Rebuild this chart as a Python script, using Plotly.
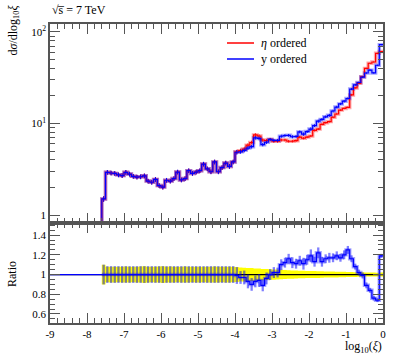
import numpy as np
import plotly.graph_objects as go

# ---------------- data ----------------
# histogram bins of width 0.1 in log10(xi) from -9 to 0; bins below -7.6 are empty
bin_edges = np.round(np.linspace(-9.0, 0.0, 91), 2)
n_empty = 14

# eta-ordered dsigma/dlog10(xi), bins -7.6 ... -0.1
eta_vals = [1.5, 2.93, 2.88, 2.85, 2.75, 2.7, 2.93, 2.8, 2.65, 2.6,
            2.62, 2.68, 2.35, 2.28, 2.45, 2.1, 2.02, 2.4, 2.35, 2.5,
            2.95, 2.42, 2.5, 3.05, 2.85, 2.95, 3.05, 3.6, 3.2, 2.97,
            3.8, 2.97, 3.3, 3.7, 3.4, 3.8, 4.9, 5.05, 5.25, 5.8,
            6.2, 7.5, 7.3, 6.6, 6.5, 6.7, 6.4, 6.4, 6.6, 6.6,
            6.4, 6.4, 6.5, 7.1, 6.9, 7.1, 7.3, 8.4, 8.7, 9.8,
            10.2, 10.5, 11.7, 12.7, 14.0, 14.6, 15.0, 20.5, 24.5, 27.5,
            32.5, 40.0, 45.5, 47.0, 58.5, 61.0]

# ratio y ordered / eta ordered, bins -7.6 ... -0.1
ratio_vals = [1.0] * 36 + [
    0.99, 0.97, 0.97, 0.93, 0.90, 0.93, 0.94, 0.89, 0.96, 1.0,
    1.02, 1.02, 1.10, 1.12, 1.16, 1.12, 1.11, 1.14, 1.11, 1.15,
    1.19, 1.13, 1.22, 1.13, 1.16, 1.17, 1.17, 1.19, 1.17, 1.20,
    1.25, 1.16, 1.08, 1.02, 0.99, 0.89, 0.84, 0.76, 0.74, 1.19]

# relative uncertainty of the eta-ordered reference (yellow band)
band_err = [0.10,
            0.078, 0.08, 0.08, 0.078, 0.08, 0.082, 0.08, 0.078, 0.08, 0.082,
            0.085, 0.08, 0.078, 0.08, 0.082, 0.085, 0.08, 0.082, 0.08, 0.078,
            0.08, 0.082, 0.08, 0.078, 0.08, 0.08, 0.078, 0.08, 0.08, 0.082,
            0.08, 0.078, 0.08, 0.08, 0.078, 0.076,
            0.072, 0.07, 0.067, 0.065, 0.062, 0.06, 0.057, 0.056, 0.053, 0.052,
            0.05, 0.048, 0.046, 0.044, 0.042, 0.04, 0.039, 0.038, 0.036, 0.035,
            0.035, 0.034, 0.033, 0.031, 0.031, 0.03, 0.029, 0.028, 0.027, 0.026,
            0.025, 0.024, 0.023, 0.022, 0.021, 0.02, 0.02, 0.019, 0.02]

# uncertainty of the y-ordered ratio points
ratio_err = [0.10] + [0.085] * 36 + [
    0.065, 0.07, 0.07, 0.065, 0.06, 0.065, 0.06, 0.06, 0.055, 0.055,
    0.05, 0.055, 0.05, 0.05, 0.055, 0.05, 0.05, 0.06, 0.05, 0.065,
    0.05, 0.055, 0.05, 0.045, 0.05, 0.045, 0.045, 0.04, 0.045, 0.04,
    0.035, 0.03, 0.03, 0.03, 0.03, 0.025, 0.025, 0.02, 0.02]

eta = np.array([0.0] * n_empty + eta_vals)
ratio = np.array([1.0] * n_empty + ratio_vals)
yord = eta * ratio
berr = np.array([0.0] * n_empty + band_err)
rerr = np.array([0.0] * n_empty + ratio_err)
centers = (bin_edges[:-1] + bin_edges[1:]) / 2
filled = eta > 0

FLOOR = 1e-3  # display value for empty bins on the log axis


def step_y(v):
    v = np.asarray(v, dtype=float)
    return np.append(v, v[-1])


def logsafe(v):
    return np.where(v > 0, v, FLOOR)


RED = "#ff0000"
BLUE = "#0000ff"
AX = "#555555"
FONT = "Liberation Serif"

fig = go.Figure()

# ---------------- main panel ----------------
for vals, col, halo in [(eta, RED, "rgba(255,0,0,0.35)"),
                        (yord, BLUE, "rgba(0,0,255,0.35)")]:
    fig.add_trace(go.Scatter(x=bin_edges, y=step_y(logsafe(vals)), mode="lines",
                             line=dict(shape="hv", color=halo, width=3.5),
                             xaxis="x", yaxis="y", showlegend=False, hoverinfo="skip"))
for vals, col, rel in [(eta, RED, berr), (yord, BLUE, rerr)]:
    fig.add_trace(go.Scatter(x=centers[filled], y=vals[filled], mode="markers",
                             marker=dict(size=0.1, color=col),
                             error_y=dict(type="data", array=(vals * rel * 0.7)[filled],
                                          color=col, thickness=1, width=0),
                             xaxis="x", yaxis="y", showlegend=False, hoverinfo="skip"))
    fig.add_trace(go.Scatter(x=bin_edges, y=step_y(logsafe(vals)), mode="lines",
                             line=dict(shape="hv", color=col, width=1.2),
                             xaxis="x", yaxis="y", showlegend=False))

# ---------------- ratio panel ----------------
e_f = bin_edges[n_empty:]
fig.add_trace(go.Scatter(x=e_f, y=step_y(1 - berr[n_empty:]), mode="lines",
                         line=dict(shape="hv", width=0, color="#ffff00"),
                         xaxis="x2", yaxis="y2", showlegend=False, hoverinfo="skip"))
fig.add_trace(go.Scatter(x=e_f, y=step_y(1 + berr[n_empty:]), mode="lines",
                         line=dict(shape="hv", width=0, color="#ffff00"),
                         fill="tonexty", fillcolor="#ffff00",
                         xaxis="x2", yaxis="y2", showlegend=False, hoverinfo="skip"))
fig.add_trace(go.Scatter(x=[bin_edges[0], bin_edges[-1]], y=[1, 1], mode="lines",
                         line=dict(color="black", width=1.2),
                         xaxis="x2", yaxis="y2", showlegend=False, hoverinfo="skip"))
fig.add_trace(go.Scatter(x=centers[filled], y=ratio[filled], mode="markers",
                         marker=dict(size=0.1, color=BLUE),
                         error_y=dict(type="data", array=rerr[filled],
                                      color="rgba(0,0,255,0.5)", thickness=2.3, width=0),
                         xaxis="x2", yaxis="y2", showlegend=False, hoverinfo="skip"))
fig.add_trace(go.Scatter(x=bin_edges[n_empty:], y=step_y(ratio[n_empty:]), mode="lines",
                         line=dict(shape="hv", color="rgba(0,0,255,0.35)", width=3.5),
                         xaxis="x2", yaxis="y2", showlegend=False, hoverinfo="skip"))
fig.add_trace(go.Scatter(x=bin_edges, y=step_y(ratio), mode="lines",
                         line=dict(shape="hv", color=BLUE, width=1.2),
                         xaxis="x2", yaxis="y2", showlegend=False))

# ---------------- layout ----------------
# target plot area in the window: x 50..383, y 24..323
W, H = 397, 358
L, T = 50, 24
R = W - 383
B = H - 323
plot_h = H - T - B
split = 100 / plot_h

common_x = dict(range=[-9, 0], showline=True, linecolor=AX, linewidth=1.5, mirror="allticks",
                ticks="inside", ticklen=10, tickwidth=1, tickcolor=AX, dtick=1, tick0=0,
                minor=dict(ticks="inside", ticklen=5, tickwidth=1, tickcolor=AX, dtick=0.2),
                showgrid=False, zeroline=False,
                tickfont=dict(family=FONT, size=11, color="black"))

fig.update_layout(
    width=W, height=H, margin=dict(l=L, r=R, t=T, b=B),
    paper_bgcolor="white", plot_bgcolor="white",
    font=dict(family=FONT, size=11, color="black"),
    xaxis=dict(common_x, anchor="y", domain=[0, 1], showticklabels=False, matches="x2"),
    xaxis2=dict(common_x, anchor="y2", domain=[0, 1], showticklabels=True,
                tickvals=[-9, -8, -7, -6, -5, -4, -3, -2, -1, 0],
                ticktext=["-9", "-8", "-7", "-6", "-5", "-4", "-3", "-2", "-1", "0"]),
    yaxis=dict(type="log", range=[-0.087, 2.087], domain=[split, 1], anchor="x",
               showline=True, linecolor=AX, linewidth=1.5, mirror="allticks",
               ticks="inside", ticklen=10, tickwidth=1, tickcolor=AX,
               tickvals=[1, 10, 100], ticktext=["1", "10<sup>1</sup>", "10<sup>2</sup>"],
               minor=dict(ticks="inside", ticklen=5, tickwidth=1, tickcolor=AX,
                          tickvals=[2, 3, 4, 5, 6, 7, 8, 9, 20, 30, 40, 50, 60, 70, 80, 90]),
               showgrid=False, zeroline=False,
               tickfont=dict(family=FONT, size=11, color="black")),
    yaxis2=dict(range=[0.508, 1.523], domain=[0, split], anchor="x2",
                showline=True, linecolor=AX, linewidth=1.5, mirror="allticks",
                ticks="inside", ticklen=10, tickwidth=1, tickcolor=AX,
                tickvals=[0.6, 0.8, 1.0, 1.2, 1.4], ticktext=["0.6", "0.8", "1", "1.2", "1.4"],
                minor=dict(ticks="inside", ticklen=5, tickwidth=1, tickcolor=AX, dtick=0.05),
                showgrid=False, zeroline=False,
                tickfont=dict(family=FONT, size=11, color="black")),
)


def px_x(p):
    return (p - L) / (W - L - R)


def px_y(p):
    return (H - B - p) / plot_h


# legend
for ypix, col, label in [(43, RED, "<i>η</i> ordered"), (59, BLUE, "y ordered")]:
    fig.add_shape(type="line", xref="paper", yref="paper",
                  x0=px_x(227), x1=px_x(254), y0=px_y(ypix), y1=px_y(ypix),
                  line=dict(color=col, width=1.5))
    fig.add_annotation(xref="paper", yref="paper", x=px_x(259), y=px_y(ypix),
                       xanchor="left", yanchor="middle", text=label, showarrow=False,
                       font=dict(family=FONT, size=12, color="black"))

# title and axis labels
fig.add_annotation(xref="paper", yref="paper", x=px_x(50), y=px_y(10), xanchor="left",
                   yanchor="middle", text="√s\u0305 = 7 TeV", showarrow=False,
                   font=dict(family=FONT, size=12, color="black"))
fig.add_annotation(xref="paper", yref="paper", x=px_x(384), y=px_y(347), xanchor="right",
                   yanchor="middle", text="log<sub>10</sub>(<i>ξ</i>)", showarrow=False,
                   font=dict(family=FONT, size=12, color="black"))
fig.add_annotation(xref="paper", yref="paper", x=px_x(13), y=px_y(3), xanchor="center",
                   yanchor="top", textangle=-90, text="d<i>σ</i>/dlog<sub>10</sub><i>ξ</i>",
                   showarrow=False, font=dict(family=FONT, size=12, color="black"))
fig.add_annotation(xref="paper", yref="paper", x=px_x(12), y=px_y(274), xanchor="center",
                   yanchor="middle", textangle=-90, text="Ratio",
                   showarrow=False, font=dict(family=FONT, size=12, color="black"))

# remove the default 8px page margin so the figure sits at the window origin
fig.write_html("out.html", config={"displayModeBar": False},
               post_script="document.body.style.margin='0px';")
